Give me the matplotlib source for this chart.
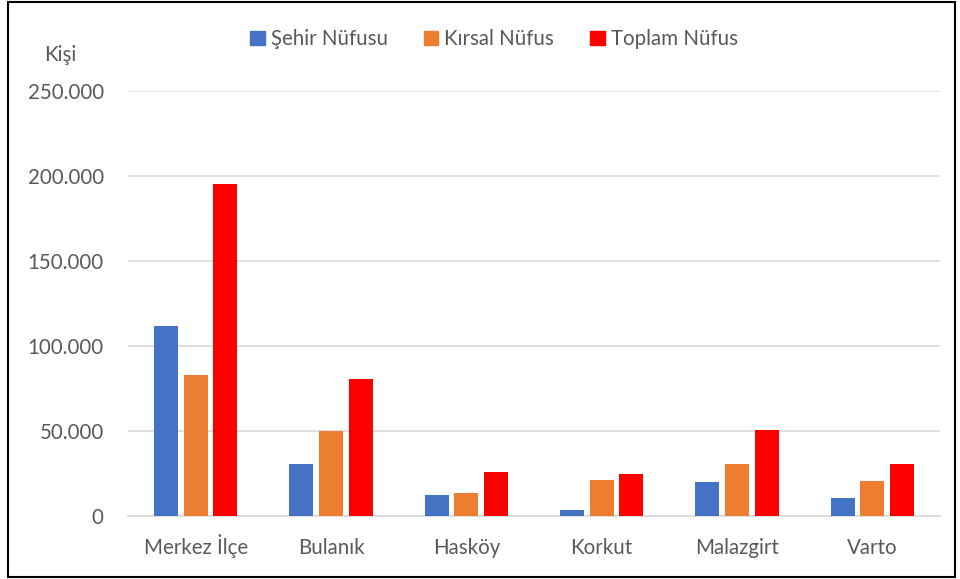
import matplotlib
matplotlib.use("Agg")
import matplotlib.pyplot as plt
import numpy as np
from matplotlib.ticker import FuncFormatter, MultipleLocator
from matplotlib.patches import Rectangle, Patch

categories = ["Merkez İlçe", "Bulanık", "Hasköy", "Korkut", "Malazgirt", "Varto"]
sehir = [111700, 30500, 12400, 3300, 20200, 10400]
kirsal = [83200, 49800, 13700, 21200, 30400, 20400]
toplam = [195100, 80300, 25600, 24900, 50600, 30800]
series_names = ["Şehir Nüfusu", "Kırsal Nüfus", "Toplam Nüfus"]
colors = ["#4472C4", "#ED7D31", "#FF0000"]

plt.rcParams['font.family'] = ['Lato', 'DejaVu Sans']
txt = "#595959"
fs = 14.8

fig = plt.figure(figsize=(9.6, 5.79), dpi=100)
ax = fig.add_axes([128/960, 63/579, 812/960, 425/579])

x = np.arange(len(categories))
w = 0.177
step = 0.22
for i, (vals, c, n) in enumerate(zip([sehir, kirsal, toplam], colors, series_names)):
    ax.bar(x + (i - 1) * step, vals, width=w, color=c, label=n, zorder=3)

ax.set_xlim(-0.5, len(categories) - 0.5)
ax.set_ylim(0, 250000)
ax.yaxis.set_major_locator(MultipleLocator(50000))
ax.yaxis.set_major_formatter(FuncFormatter(lambda v, p: f"{int(v):,}".replace(",", ".")))
ax.grid(axis='y', color='#d9d9d9', linewidth=1.2, zorder=0)
for s in ['top', 'right', 'left']:
    ax.spines[s].set_visible(False)
ax.spines['bottom'].set_color('#d9d9d9')
ax.spines['bottom'].set_linewidth(1.2)
ax.set_xticks(x)
ax.set_xticklabels([])
ax.tick_params(axis='both', length=0, labelsize=fs, colors=txt)
ax.tick_params(axis='y', pad=17.5)
for xi, lab in zip(x, categories):
    ax.text(xi, -0.089, lab, transform=ax.get_xaxis_transform(), ha='center',
            va='baseline', fontsize=fs, color=txt)

fig.text(60/960, 1 - 55/579, "Kişi", ha='center', va='center', fontsize=fs, color=txt)

handles = [Patch(color=c, label=n) for c, n in zip(colors, series_names)]
fig.legend(handles=handles, loc='center', bbox_to_anchor=(494/960, 1 - 39/579), ncol=3,
           frameon=False, fontsize=fs, handlelength=0.7, handleheight=0.7,
           handletextpad=0.3, columnspacing=1.75, labelcolor=txt)

fig.patches.append(Rectangle((8/960, 2/579), 947/960, 575/579, transform=fig.transFigure,
                             fill=False, edgecolor='black', linewidth=1.5))

fig.savefig("out.png", dpi=100)
